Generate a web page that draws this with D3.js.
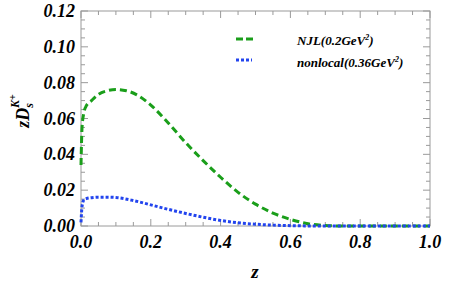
<!DOCTYPE html>
<html>
<head>
<meta charset="utf-8">
<script src="https://cdn.jsdelivr.net/npm/d3@7"></script>
<style>
body { margin: 0; background: #fff; }
</style>
</head>
<body>
<svg width="463" height="290"></svg>
<script>
var svg = d3.select("svg");
var FONT = "Liberation Serif";

// data
var zNJL = [0.0, 0.003, 0.008, 0.015, 0.03, 0.05, 0.075, 0.1, 0.13, 0.16, 0.2, 0.25, 0.3, 0.35, 0.4, 0.45, 0.5, 0.55, 0.6, 0.65, 0.7, 0.75, 0.8, 0.9, 1.0];
var vNJL = [0.034, 0.055, 0.063, 0.067, 0.070, 0.0735, 0.0755, 0.0762, 0.0755, 0.0732, 0.0675, 0.0575, 0.0465, 0.0365, 0.0272, 0.0188, 0.0122, 0.0072, 0.0037, 0.0013, 0.0003, 0.0, 0.0, 0.0, 0.0];
var zNL = [0.0, 0.003, 0.008, 0.015, 0.03, 0.05, 0.075, 0.1, 0.15, 0.2, 0.25, 0.3, 0.35, 0.4, 0.45, 0.5, 0.55, 0.6, 0.7, 0.8, 0.9, 1.0];
var vNL = [0.002, 0.011, 0.0145, 0.0153, 0.0158, 0.0161, 0.0161, 0.0159, 0.0142, 0.0118, 0.0093, 0.0070, 0.0049, 0.0031, 0.0018, 0.0010, 0.0005, 0.0002, 0.0, 0.0, 0.0, 0.0];
var xTicks = [0, 0.2, 0.4, 0.6, 0.8, 1.0];
var yTicks = [0, 0.02, 0.04, 0.06, 0.08, 0.10, 0.12];
var seriesNames = ["NJL(0.2GeV", "nonlocal(0.36GeV"];

var x = d3.scaleLinear().domain([0, 1]).range([81, 430]);
var y = d3.scaleLinear().domain([0, 0.12]).range([226, 11]);

var frame = "#9a9a9a";

function txt(sel) {
    return sel.attr("font-family", FONT)
        .attr("font-weight", "bold")
        .attr("font-style", "italic")
        .attr("fill", "#000");
}

// frame
svg.append("rect")
    .attr("x", x(0)).attr("y", y(0.12))
    .attr("width", x(1) - x(0)).attr("height", y(0) - y(0.12))
    .attr("fill", "none").attr("stroke", frame).attr("stroke-width", 1);

var xMinor = d3.range(0, 1.0001, 0.05);
var yMinor = d3.range(0, 0.12001, 0.005);

function isMajor(v, step) {
    return Math.abs(v / step - Math.round(v / step)) < 1e-6;
}

var tg = svg.append("g").attr("stroke", frame).attr("stroke-width", 1);
xMinor.forEach(function(v) {
    var len = isMajor(v, 0.2) ? 7 : 4;
    tg.append("line").attr("x1", x(v)).attr("x2", x(v)).attr("y1", y(0)).attr("y2", y(0) - len);
    tg.append("line").attr("x1", x(v)).attr("x2", x(v)).attr("y1", y(0.12)).attr("y2", y(0.12) + len);
});
yMinor.forEach(function(v) {
    var len = isMajor(v, 0.02) ? 7 : 4;
    tg.append("line").attr("y1", y(v)).attr("y2", y(v)).attr("x1", x(0)).attr("x2", x(0) + len);
    tg.append("line").attr("y1", y(v)).attr("y2", y(v)).attr("x1", x(1)).attr("x2", x(1) - len);
});

// tick labels
txt(svg.append("g").selectAll("text")
    .data(xTicks).enter().append("text"))
    .attr("x", function(d) { return x(d); })
    .attr("y", 248)
    .attr("text-anchor", "middle")
    .attr("font-size", 18)
    .text(function(d) { return d.toFixed(1); });

txt(svg.append("g").selectAll("text")
    .data(yTicks).enter().append("text"))
    .attr("x", 75)
    .attr("y", function(d) { return y(d) + 6; })
    .attr("text-anchor", "end")
    .attr("font-size", 18)
    .text(function(d) { return d.toFixed(2); });

// axis labels
txt(svg.append("text"))
    .attr("x", 255).attr("y", 278)
    .attr("text-anchor", "middle")
    .attr("font-size", 19)
    .text("z");

var yl = txt(svg.append("text"))
    .attr("transform", "translate(29,111) rotate(-90)")
    .attr("text-anchor", "middle")
    .attr("font-size", 18);
yl.append("tspan").text("zD");
yl.append("tspan").attr("font-size", 12).attr("dy", 4).text("s");
yl.append("tspan").attr("font-size", 12).attr("dx", -5).attr("dy", -14).text("K");
yl.append("tspan").attr("font-size", 10).attr("dy", -3).text("+");

// curves
var line = d3.line()
    .x(function(d) { return x(d[0]); })
    .y(function(d) { return y(d[1]); })
    .curve(d3.curveMonotoneX);

svg.append("path")
    .datum(d3.zip(zNJL, vNJL))
    .attr("d", line)
    .attr("fill", "none")
    .attr("stroke", "#1a9e1a")
    .attr("stroke-width", 3)
    .attr("stroke-dasharray", "7,4");

svg.append("path")
    .datum(d3.zip(zNL, vNL))
    .attr("d", line)
    .attr("fill", "none")
    .attr("stroke", "#2244ee")
    .attr("stroke-width", 3)
    .attr("stroke-dasharray", "3,2");

// legend
var lg = svg.append("g");
lg.append("line").attr("x1", 236).attr("x2", 253).attr("y1", 39).attr("y2", 39)
    .attr("stroke", "#1a9e1a").attr("stroke-width", 3).attr("stroke-dasharray", "7,3");
lg.append("line").attr("x1", 236).attr("x2", 252).attr("y1", 60).attr("y2", 60)
    .attr("stroke", "#2244ee").attr("stroke-width", 3).attr("stroke-dasharray", "3,2");

var t1 = txt(lg.append("text")).attr("x", 297).attr("y", 45).attr("font-size", 13);
t1.append("tspan").text(seriesNames[0]);
t1.append("tspan").attr("font-size", 8).attr("dy", -5).text("2");
t1.append("tspan").attr("dy", 5).text(")");

var t2 = txt(lg.append("text")).attr("x", 297).attr("y", 67).attr("font-size", 13);
t2.append("tspan").text(seriesNames[1]);
t2.append("tspan").attr("font-size", 8).attr("dy", -5).text("2");
t2.append("tspan").attr("dy", 5).text(")");
</script>
</body>
</html>
